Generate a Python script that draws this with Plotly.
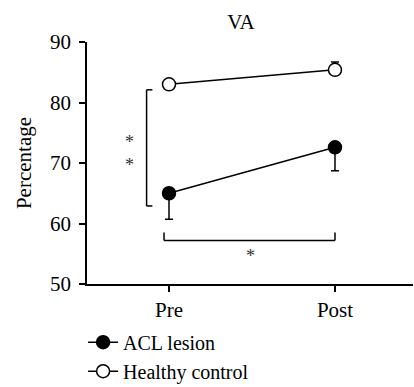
import plotly.graph_objects as go

categories = ["Pre", "Post"]
acl_values = [65.0, 72.6]
acl_err_minus = [4.3, 3.9]
healthy_values = [83.0, 85.4]
healthy_err_plus = [0.6, 1.3]
series_names = ["ACL lesion", "Healthy control"]
y_ticks = [50, 60, 70, 80, 90]

FONT = "'Liberation Serif', 'Times New Roman', 'DejaVu Serif', serif"
FS = 21
fig = go.Figure()

fig.add_trace(go.Scatter(
    x=[0, 1], y=acl_values, name=series_names[0], mode="lines+markers",
    line=dict(color="black", width=1.5),
    marker=dict(symbol="circle", size=13, color="black", line=dict(color="black", width=1.5)),
    error_y=dict(type="data", symmetric=False, array=[0, 0], arrayminus=acl_err_minus,
                 color="black", thickness=1.5, width=4),
    legendgroup="a",
))
fig.add_trace(go.Scatter(
    x=[0, 1], y=healthy_values, name=series_names[1], mode="lines+markers",
    line=dict(color="black", width=1.5),
    marker=dict(symbol="circle", size=13, color="white", line=dict(color="black", width=1.5)),
    error_y=dict(type="data", symmetric=False, array=healthy_err_plus, arrayminus=[0, 0],
                 color="black", thickness=1.5, width=4),
    legendgroup="b",
))

# significance brackets
lw = dict(color="black", width=1.5)
fig.add_shape(type="line", x0=-0.135, x1=-0.135, y0=62.9, y1=82.1, xref="x", yref="y", line=lw)
fig.add_shape(type="line", x0=-0.135, x1=-0.1, y0=82.1, y1=82.1, xref="x", yref="y", line=lw)
fig.add_shape(type="line", x0=-0.135, x1=-0.1, y0=62.9, y1=62.9, xref="x", yref="y", line=lw)
fig.add_shape(type="line", x0=-0.03, x1=1.0, y0=57.2, y1=57.2, xref="x", yref="y", line=lw)
fig.add_shape(type="line", x0=-0.03, x1=-0.03, y0=57.2, y1=58.5, xref="x", yref="y", line=lw)
fig.add_shape(type="line", x0=1.0, x1=1.0, y0=57.2, y1=58.5, xref="x", yref="y", line=lw)

star_font = dict(family=FONT, size=18, color="#333333")
fig.add_annotation(x=-0.24, y=73.5, text="*", showarrow=False, xref="x", yref="y", font=star_font)
fig.add_annotation(x=-0.24, y=69.7, text="*", showarrow=False, xref="x", yref="y", font=star_font)
fig.add_annotation(x=0.488, y=54.6, text="*", showarrow=False, xref="x", yref="y", font=star_font)

fig.update_layout(
    width=414, height=387,
    margin=dict(l=87, r=1, t=42, b=103, autoexpand=False),
    paper_bgcolor="white", plot_bgcolor="white",
    font=dict(family=FONT, size=FS, color="black"),
    title=dict(text="VA", x=0.582, xanchor="center", y=0.944, yanchor="middle",
               font=dict(family=FONT, size=FS)),
    showlegend=True,
    legend=dict(x=-0.012, y=-0.16, xanchor="left", yanchor="top", orientation="v",
                traceorder="normal", tracegroupgap=1, font=dict(family=FONT, size=20),
                bgcolor="rgba(0,0,0,0)", itemwidth=30),
    xaxis=dict(range=[-0.494, 1.47], tickvals=[0, 1], ticktext=categories,
               showline=True, linecolor="black", linewidth=1.5, ticks="outside",
               ticklen=6, tickwidth=1.5, tickcolor="black", showgrid=False, zeroline=False,
               tickfont=dict(family=FONT, size=FS)),
    yaxis=dict(range=[50, 90], tickvals=y_ticks, showline=True, linecolor="black",
               linewidth=1.5, ticks="outside", ticklen=6, tickwidth=1.5, tickcolor="black",
               ticklabelstandoff=4,
               showgrid=False, zeroline=False, title=dict(text="Percentage", standoff=13,
               font=dict(family=FONT, size=FS)), tickfont=dict(family=FONT, size=FS)),
)

fig.write_html("out.html", config={"displayModeBar": False},
               post_script="document.body.style.margin='0';")
